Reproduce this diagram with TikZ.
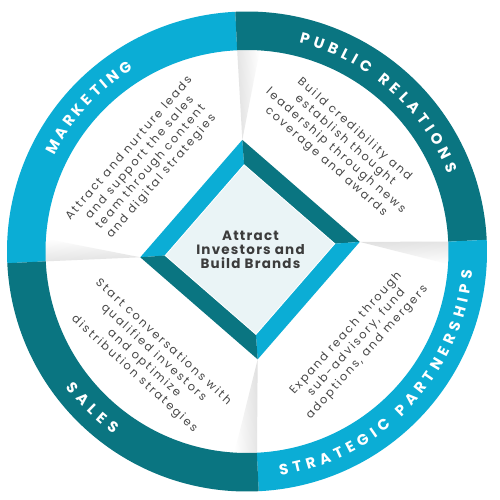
\documentclass[tikz,border=0pt]{standalone}
\usepackage{fontspec}
\setmainfont{Poppins}
\newfontfamily\ringfont{Poppins}
\newfontfamily\ctrfont{Poppins}[LetterSpace=9]
\newfontfamily\bodyfont{Poppins}[LetterSpace=17]
\usetikzlibrary{decorations.text,calc}
\definecolor{ringblue}{HTML}{0BADD5}
\definecolor{ringteal}{HTML}{0A7581}
\definecolor{diafill}{HTML}{EAF4F6}
\definecolor{txtgray}{HTML}{474747}
\definecolor{ctrgray}{HTML}{3C3C3C}
\newcommand\ringseg[3]{\fill[#1] (#2:240) arc[start angle=#2,end angle=#3,radius=240] -- (#3:201.5) arc[start angle=#3,end angle=#2,radius=201.5] -- cycle;}
\begin{document}
\begin{tikzpicture}[x=1pt,y=1pt,
  bodytxt/.style={text=txtgray, align=center, inner sep=0pt,
    font=\bodyfont\fontsize{11.5}{14.3}\selectfont},
  ctrtxt/.style={text=ctrgray, align=center, inner sep=0pt,
    font=\ctrfont\bfseries\fontsize{13.5}{14.3}\selectfont},
  ringlbl/.style={decorate, decoration={text along path, text color=white,
    text={|\ringfont\bfseries\fontsize{15}{15}\selectfont|#1}, text align={fit to path}}},
  shadowwedge/.style={top color=black!12, bottom color=white, shading angle=#1}
]
\fill[white] (-247,-248.5) rectangle (253,251.5);
\path[use as bounding box] (-247,-248.5) rectangle (253,251.5);

% diamond geometry
\begin{scope}[shift={(3,1.9)}, rotate=4]
  \coordinate (oT) at (90:110);
  \coordinate (oL) at (180:110);
  \coordinate (oB) at (270:110);
  \coordinate (oR) at (0:110);
  \coordinate (iT) at (90:85);
  \coordinate (iL) at (180:85);
  \coordinate (iB) at (270:85);
  \coordinate (iR) at (0:85);
\end{scope}

% soft separator shadows
\shade[shadowwedge=92.8] (oT) -- (92.8:204) arc[start angle=92.8,end angle=86.3,radius=204] -- cycle;
\shade[shadowwedge=2.8] (oR) -- (2.8:204) arc[start angle=2.8,end angle=-3.7,radius=204] -- cycle;
\shade[shadowwedge=-87.2] (oB) -- (272.8:204) arc[start angle=272.8,end angle=266.3,radius=204] -- cycle;
\shade[shadowwedge=182.8] (oL) -- (182.8:204) arc[start angle=182.8,end angle=176.3,radius=204] -- cycle;

% ring
\ringseg{ringblue}{92.8}{182.8}
\ringseg{ringteal}{2.8}{92.8}
\ringseg{ringblue}{-87.2}{2.8}
\ringseg{ringteal}{182.8}{272.8}

% ring labels
\path[ringlbl=MARKETING] (153.5:215.3) arc[start angle=153.5,end angle=122,radius=215.3];
\path[ringlbl=PUBLIC RELATIONS] (76:215.3) arc[start angle=76,end angle=21.2,radius=215.3];
\path[ringlbl=STRATEGIC PARTNERSHIPS] (-81.6:226.2) arc[start angle=-81.6,end angle=-4.9,radius=226.2];
\path[ringlbl=SALES] (216.8:226.2) arc[start angle=216.8,end angle=233.8,radius=226.2];

% diamond
\fill[ringblue] (oT) -- (oL) -- (iL) -- (iT) -- cycle;
\fill[ringteal] (oT) -- (oR) -- (iR) -- (iT) -- cycle;
\fill[ringblue] (oR) -- (oB) -- (iB) -- (iR) -- cycle;
\fill[ringteal] (oB) -- (oL) -- (iL) -- (iB) -- cycle;
\filldraw[fill=diafill, draw=white, line width=0.8pt] (iT) -- (iL) -- (iB) -- (iR) -- cycle;

% texts
\node[ctrtxt] (ctr) at (3.5,1.5) {Attract\\Investors and\\Build Brands};
\node[bodytxt, rotate=49] (mkt) at (-101.5,88.8) {Attract and nurture leads\\and support the sales\\team through content\\and digital strategies};
\node[bodytxt, rotate=-41.5] (pr) at (93.3,105.8) {Build credibility and\\establish thought\\leadership through news\\coverage and awards};
\node[bodytxt, rotate=-42.5] (sales) at (-98.3,-106.7) {Start conversations with\\qualified investors\\and optimize\\distribution strategies};
\node[bodytxt, rotate=48] (sp) at (109.7,-91.5) {Expand reach through\\sub-advisory, fund\\adoptions, and mergers};
\end{tikzpicture}
\end{document}
